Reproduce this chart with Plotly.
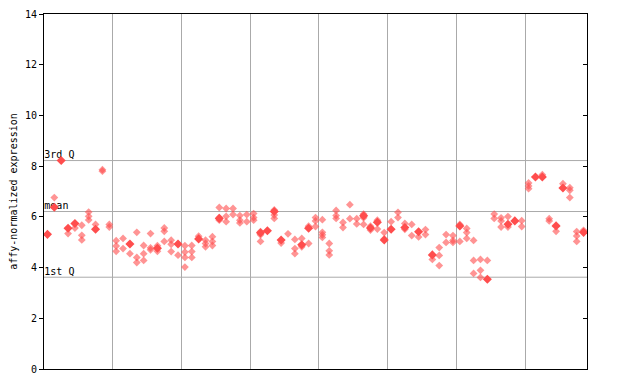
import plotly.graph_objects as go

# ---- data ----
hatched_vals = [
    [], [6.76], [], [5.34], [5.56], [5.67, 5.27, 5.09], [6.19, 6.02, 5.88], [5.70], [7.86, 7.80], [5.70, 5.60],
    [5.06, 4.85, 4.64], [5.15, 4.75], [4.55], [5.39, 4.40, 4.20], [4.87, 4.55, 4.28], [5.34, 4.78, 4.70],
    [4.86, 4.64], [5.56, 5.43, 5.03], [5.08, 4.92, 4.63], [4.49],
    [4.86, 4.61, 4.40, 4.02], [4.87, 4.63, 4.40], [5.24], [5.08, 4.95, 4.82], [5.22, 5.03, 4.87],
    [6.37, 5.97, 5.87], [6.33, 6.02, 5.81], [6.33, 6.09], [6.05, 5.87, 5.76], [6.09, 5.81],
    [6.13, 5.97, 5.87], [5.42, 5.29, 5.03], [], [6.27, 6.07, 5.94], [4.97], [5.33], [5.11, 4.75, 4.55],
    [5.15, 4.82], [5.63, 4.95], [5.97, 5.84, 5.62],
    [5.89, 5.39, 5.29, 5.19], [4.95, 4.66, 4.50], [6.25, 6.05, 5.94], [5.78, 5.58], [6.48, 5.93],
    [5.93, 5.72], [6.11, 5.96, 5.70], [5.63, 5.48], [5.87, 5.52], [5.38, 5.13],
    [5.81], [6.18, 5.97], [5.74, 5.51], [5.70, 5.26], [5.21], [5.50, 5.30], [4.32], [4.79, 4.48, 4.08],
    [5.30, 4.99], [5.26, 5.07, 4.99],
    [5.70, 5.03], [5.54, 5.38, 5.15], [5.07, 4.28, 3.77], [4.32, 3.89, 3.61], [4.28], [6.11, 5.94],
    [5.96, 5.84, 5.60], [6.01, 5.60], [], [5.85, 5.62],
    [7.34, 7.22, 7.11], [], [7.66], [5.93, 5.84], [5.67, 5.43], [7.31], [7.15, 7.05, 6.76],
    [5.42, 5.25, 5.03], [5.47],
]

filled_vals = [
    5.31, 6.38, 8.22, 5.55, 5.74, None, None, 5.51, None, None,
    None, None, 4.93, None, None, None, 4.76, None, None, 4.93,
    None, None, 5.13, None, None, 5.94, None, None, None, None,
    None, 5.37, 5.45, 6.21, 5.09, None, None, 4.90, 5.55, None,
    None, None, None, None, None, None, 6.04, 5.56, 5.79, 5.09,
    5.51, None, 5.58, None, 5.41, None, 4.50, None, None, None,
    5.64, None, None, None, 3.54, None, None, 5.71, 5.84, None,
    None, 7.57, 7.57, None, 5.64, 7.14, None, None, 5.39,
]

group_size = 10
quartile_labels = ["3rd Q", "mean", "1st Q"]
quartile_values = [8.22, 6.21, 3.62]
y_ticks = [0, 2, 4, 6, 8, 10, 12, 14]

# ---- build ----
hx, hy = [], []
for i, vals in enumerate(hatched_vals):
    for v in vals:
        hx.append(i)
        hy.append(v)
fx = [i for i, v in enumerate(filled_vals) if v is not None]
fy = [v for v in filled_vals if v is not None]
n = len(hatched_vals)

red = "#ff4d4d"
mono = "DejaVu Sans Mono"
fig = go.Figure()
# quartile labels as a text trace (drawn beneath markers, as in the reference)
fig.add_trace(go.Scatter(x=[-0.45] * len(quartile_values), y=quartile_values, mode="text",
                         text=quartile_labels, textposition="top right",
                         textfont=dict(family=mono, size=10, color="black"),
                         cliponaxis=False, showlegend=False))
fig.add_trace(go.Scatter(x=hx, y=hy, mode="markers",
                         marker=dict(symbol="diamond", size=6, color="rgba(255,77,77,0.6)",
                                     line=dict(width=0)),
                         showlegend=False))
fig.add_trace(go.Scatter(x=fx, y=fy, mode="markers",
                         marker=dict(symbol="diamond", size=7, color=red, line=dict(width=0)),
                         showlegend=False))
# invisible trace for right axis ticks
fig.add_trace(go.Scatter(x=[0], y=[0], yaxis="y2", mode="markers",
                         marker=dict(opacity=0), hoverinfo="skip", showlegend=False))

for q in quartile_values:
    fig.add_shape(type="line", xref="paper", x0=0, x1=1, yref="y", y0=q, y1=q,
                  line=dict(color="#aaaaaa", width=1), layer="below")

fig.update_layout(
    width=632, height=376,
    margin=dict(l=36, r=53, t=6, b=15, autoexpand=False),
    paper_bgcolor="white", plot_bgcolor="white",
    hovermode=False,
    font=dict(family=mono, size=10, color="black"),
    xaxis=dict(range=[-0.5, n - 0.5], tickvals=[g - 0.5 for g in range(group_size, n, group_size)],
               showticklabels=False, ticks="", showgrid=True, gridcolor="#aaaaaa", gridwidth=1,
               zeroline=False, showline=True, linecolor="black", linewidth=1, mirror=True,
               automargin=False),
    yaxis=dict(range=[0, 14], tickvals=y_ticks, ticks="outside", ticklen=4, tickcolor="black",
               showgrid=False, zeroline=False, showline=True, linecolor="black", linewidth=1,
               mirror=True, automargin=False,
               title=dict(text="affy-normalized expression", standoff=10,
                          font=dict(family=mono, size=10))),
    yaxis2=dict(range=[0, 14], overlaying="y", side="right", tickvals=y_ticks, ticks="inside",
                ticklen=4, tickcolor="black", showticklabels=False, showgrid=False, zeroline=False,
                automargin=False),
)

fig.write_html("out.html", config={"displayModeBar": False})
